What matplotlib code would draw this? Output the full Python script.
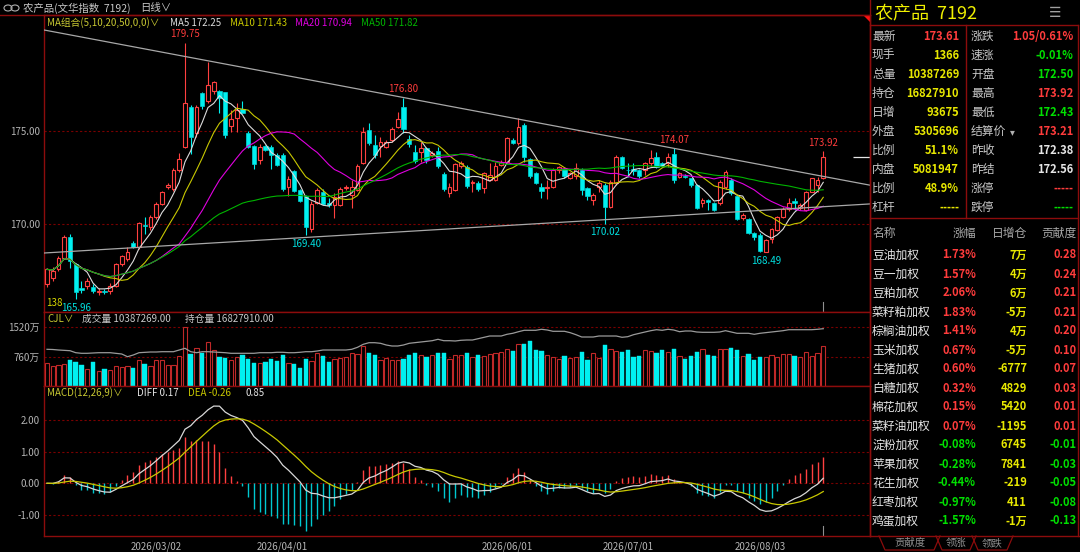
import numpy as np
import pandas as pd
import matplotlib
matplotlib.use('Agg')
import matplotlib.pyplot as plt
from matplotlib.lines import Line2D
from matplotlib.patches import Polygon, Ellipse
from matplotlib.ticker import FormatStrFormatter

plt.rcParams['font.family'] = ['Noto Sans CJK SC', 'DejaVu Sans']

# ---------------- data ----------------
opens = [166.75,167.10,167.56,168.19,169.28,167.85,166.55,166.66,166.60,166.35,
 166.42,166.39,166.66,167.83,168.10,169.00,168.74,169.95,169.82,170.36,
 171.08,171.98,171.90,172.89,174.15,176.28,174.87,177.04,176.59,177.13,
 177.13,177.08,175.27,175.69,176.17,174.91,174.19,173.43,174.19,174.15,
 173.70,173.70,171.99,172.85,171.84,171.50,169.73,171.15,171.74,171.15,
 171.02,171.02,171.95,171.55,171.83,173.26,175.05,174.25,174.19,174.16,
 174.52,175.23,176.31,174.55,173.89,173.89,174.07,173.71,173.92,172.69,
 171.68,171.83,173.12,173.05,172.19,172.19,171.92,172.37,172.37,173.17,
 173.35,174.52,174.34,175.32,173.48,172.72,172.00,171.92,172.00,172.90,
 172.94,172.48,172.60,172.90,171.92,171.29,172.01,172.10,170.90,172.19,
 173.58,172.92,172.94,172.90,172.90,173.26,173.58,173.26,173.26,173.75,
 172.54,172.60,172.46,172.10,171.15,171.29,171.11,171.11,172.00,172.37,
 171.50,170.30,170.25,169.53,169.41,168.51,169.18,169.68,170.36,170.79,
 171.25,170.84,170.75,171.74,172.10,172.50]
highs = [167.65,167.70,168.30,169.40,169.46,167.92,166.95,167.10,166.78,166.55,
 166.50,166.84,167.92,168.35,168.74,169.10,170.10,170.36,170.50,171.20,
 171.80,172.20,173.00,173.83,179.75,176.40,176.40,177.10,178.70,177.70,
 177.20,177.10,176.14,176.50,176.62,175.00,174.25,174.30,174.25,174.25,
 173.80,173.80,172.60,172.90,171.90,171.55,171.25,171.95,171.90,171.38,
 171.65,172.00,172.10,172.37,173.20,175.23,175.41,174.78,174.70,174.50,
 175.23,176.04,176.80,174.78,174.25,174.43,174.16,173.90,174.16,172.80,
 172.20,173.30,173.40,173.15,172.37,172.30,172.80,173.26,173.35,173.45,
 174.70,174.60,175.68,175.45,173.55,172.80,172.20,172.37,173.00,173.12,
 173.00,172.80,173.26,173.00,172.00,171.65,172.37,172.20,172.37,173.71,
 173.65,173.26,173.26,172.95,173.35,173.98,173.89,173.35,173.80,174.07,
 172.80,172.70,172.50,172.15,171.38,171.35,171.20,172.37,172.90,172.45,
 171.56,170.60,170.30,169.59,169.50,169.20,169.77,170.45,170.90,171.38,
 171.38,171.15,171.80,172.50,172.54,173.92]
lows = [166.60,166.95,167.50,168.10,167.65,165.96,166.30,166.50,166.30,166.20,
 166.25,166.21,166.60,167.75,168.00,168.70,168.65,169.46,169.70,170.25,
 171.00,171.90,171.80,172.80,174.06,173.79,174.70,176.20,176.50,177.00,
 175.96,174.60,174.96,174.96,175.95,174.10,172.98,173.25,173.90,172.98,
 173.10,171.80,171.53,171.70,171.20,169.40,169.55,171.05,171.00,170.93,
 170.30,170.95,171.83,170.84,171.75,173.20,174.25,173.53,173.62,174.10,
 174.43,175.14,174.87,174.16,173.26,173.35,173.26,173.60,172.99,171.80,
 171.47,171.75,173.00,171.95,171.74,171.80,171.68,172.30,172.30,173.10,
 173.30,174.30,174.25,173.35,172.50,172.15,171.38,171.34,171.95,172.72,
 172.50,172.40,172.40,171.56,171.29,171.02,171.74,170.02,170.85,172.10,
 172.95,172.54,172.63,172.50,172.63,173.10,173.00,173.05,173.08,172.19,
 172.45,172.45,172.00,170.80,170.93,170.75,170.70,171.02,171.90,171.56,
 170.20,170.20,169.45,169.14,168.52,168.49,169.00,169.60,170.30,170.72,
 170.75,170.75,170.70,171.70,171.74,172.43]
closes = [167.56,167.50,168.19,169.28,168.01,166.35,166.45,166.93,166.40,166.42,
 166.36,166.66,167.83,168.29,168.47,168.77,170.04,169.90,170.36,171.08,
 171.71,172.08,172.89,173.52,176.50,174.69,176.28,176.35,177.49,177.62,
 176.77,174.78,175.63,176.14,175.99,174.15,173.25,174.15,173.97,173.70,
 173.16,171.90,172.44,171.77,171.26,169.82,171.08,171.82,171.08,171.02,
 171.47,171.88,171.97,172.00,173.12,174.96,174.34,173.71,174.39,174.43,
 175.09,175.63,175.09,174.30,173.41,174.07,173.44,173.80,173.12,171.86,
 171.97,173.23,173.30,172.04,172.28,171.86,172.72,172.63,173.12,173.35,
 174.61,174.34,175.20,173.62,172.58,172.22,171.79,172.00,172.90,173.05,
 172.58,172.75,173.00,171.83,171.51,171.56,172.19,170.90,172.28,173.58,
 173.00,172.90,172.87,172.58,173.26,173.53,173.08,173.12,173.62,172.37,
 172.72,172.51,172.10,170.84,171.29,171.20,170.75,172.28,172.81,171.68,
 170.25,170.48,169.50,169.28,168.57,169.14,169.71,170.39,170.79,171.11,
 171.15,171.02,171.74,172.46,172.38,173.61]
# volume and open interest, in 万手
volumes = [599,519,554,581,671,626,536,429,617,402,
 447,420,527,492,510,456,671,563,510,671,
 671,536,536,778,1520,832,984,867,1136,939,
 760,715,671,742,805,689,608,599,626,689,
 644,805,599,563,474,697,644,849,787,617,
 689,715,742,849,822,1046,867,805,671,715,
 671,671,689,805,867,805,765,795,856,856,
 708,795,812,856,751,812,769,830,856,882,
 961,917,1092,1092,1162,926,900,812,743,699,
 769,725,751,882,681,856,725,1075,961,900,
 882,926,751,769,926,900,856,926,882,961,
 769,708,769,874,961,804,769,961,961,996,
 943,786,821,681,751,751,795,751,830,830,
 786,751,882,786,856,1039]
open_interest = [1477,1475,1470,1467,1463,1443,1437,1437,1440,1443,
 1443,1443,1437,1430,1403,1420,1443,1447,1450,1450,
 1453,1453,1453,1470,1487,1453,1443,1453,1453,1450,
 1447,1443,1437,1437,1437,1437,1437,1443,1443,1443,
 1447,1447,1443,1443,1447,1453,1453,1460,1470,1470,
 1470,1470,1470,1477,1497,1527,1543,1543,1537,1520,
 1510,1510,1520,1537,1543,1550,1557,1563,1577,1563,
 1563,1560,1567,1570,1570,1583,1597,1610,1610,1610,
 1627,1637,1653,1667,1667,1667,1677,1670,1657,1657,
 1657,1643,1623,1600,1600,1600,1610,1610,1610,1610,
 1597,1603,1623,1637,1650,1663,1673,1667,1677,1670,
 1653,1660,1660,1650,1647,1647,1647,1650,1663,1650,
 1637,1637,1637,1627,1637,1643,1650,1657,1663,1673,
 1673,1673,1673,1673,1677,1683]

tick_idx = [19, 41, 80, 101, 124]
tick_labels = ['2026/03/02', '2026/04/01', '2026/06/01', '2026/07/01', '2026/08/03']

ma_periods = [5, 10, 20, 50]
ma_last = [172.25, 171.43, 170.94, 171.82]

high_label_idx = [24, 62, 109, 135]
low_label_idx = [5, 45, 97, 125]
upper_trend_idx = [62, 109]          # through these highs
lower_trend_idx = [0, 135]
lower_trend_val = [168.45, 170.93]

total_volume = 10387269
total_oi = 16827910
macd_last = [0.17, -0.26, 0.85]   # DIFF, DEA, MACD

quote_left_labels = ['最新', '现手', '总量', '持仓', '日增', '外盘', '比例', '内盘', '比例', '杠杆']
quote_left_values = ['173.61', '1366', '10387269', '16827910', '93675', '5305696', '51.1%', '5081947', '48.9%', '-----']
quote_right_labels = ['涨跌', '速涨', '开盘', '最高', '最低', '结算价', '昨收', '昨结', '涨停', '跌停']
quote_right_values = ['1.05/0.61%', '-0.01%', '172.50', '173.92', '172.43', '173.21', '172.38', '172.56', '-----', '-----']

comp_names = ['豆油加权', '豆一加权', '豆粕加权', '菜籽粕加权', '棕榈油加权', '玉米加权', '生猪加权', '白糖加权',
              '棉花加权', '菜籽油加权', '淀粉加权', '苹果加权', '花生加权', '红枣加权', '鸡蛋加权']
comp_pct = ['1.73%', '1.57%', '2.06%', '1.83%', '1.41%', '0.67%', '0.60%', '0.32%',
            '0.15%', '0.07%', '-0.08%', '-0.28%', '-0.44%', '-0.97%', '-1.57%']
comp_oi = ['7万', '4万', '6万', '-5万', '4万', '-5万', '-6777', '4829',
           '5420', '-1195', '6745', '7841', '-219', '411', '-1万']
comp_contrib = ['0.28', '0.24', '0.21', '0.21', '0.20', '0.10', '0.07', '0.03',
                '0.01', '0.01', '-0.01', '-0.03', '-0.05', '-0.08', '-0.13']

# ---------------- styles ----------------
BG = 'black'
FRAME = '#8c0c0c'
GRID = '#7a0000'
UP = '#ff4040'
VUP = '#c02828'
DN = '#00f0f0'
RED_T = '#ff3c3c'
GRN_T = '#00e000'
YEL_T = '#e8e800'
WHT_T = '#e6e6e6'
LBL = '#c8c8c8'
AXT = '#b4b4b4'
MA_COLORS = ['#dcdcdc', '#c8c800', '#e000e0', '#00b400']
left_val_colors = [RED_T] + [YEL_T] * 9
right_val_colors = [RED_T, GRN_T, GRN_T, RED_T, GRN_T, RED_T, WHT_T, WHT_T, RED_T, GRN_T]

W, H = 1080, 552
def fx(px):
    return px / W
def fy(py):
    return 1 - py / H

fig = plt.figure(figsize=(W / 100, H / 100), dpi=100, facecolor=BG)

X0, X1 = 44, 870
ax = fig.add_axes([fx(X0), fy(312), (X1 - X0) / W, (312 - 15) / H])
axv = fig.add_axes([fx(X0), fy(386), (X1 - X0) / W, (386 - 312) / H])
axm = fig.add_axes([fx(X0), fy(536), (X1 - X0) / W, (536 - 386) / H])

XL = (-0.52, 143.13)
for a in (ax, axv, axm):
    a.set_facecolor(BG)
    a.set_xlim(*XL)
    for s in a.spines.values():
        s.set_color(FRAME)
        s.set_linewidth(1.0)
    a.grid(axis='y', color=GRID, linestyle=(0, (2, 2)), linewidth=0.8)
    a.set_axisbelow(True)
    a.tick_params(axis='both', colors=AXT, labelsize=7, length=0, pad=3)
    a.set_xticks([])

o = np.array(opens); h = np.array(highs); l = np.array(lows); c = np.array(closes)
n = len(c)
x = np.arange(n)
up = c >= o

# ---------------- main candles ----------------
ax.set_ylim(165.269, 181.237)
body_lo = np.minimum(o, c)
body_hi = np.maximum(o, c)
body_h = np.maximum(body_hi - body_lo, 0.02)
wick_col = np.where(up, UP, DN)
ax.vlines(x, body_hi, h, colors=wick_col, linewidth=0.8, zorder=3)
ax.vlines(x, l, body_lo, colors=wick_col, linewidth=0.8, zorder=3)
ax.bar(x[up], body_h[up], bottom=body_lo[up], width=0.66, facecolor=BG,
       edgecolor=UP, linewidth=0.8, zorder=3)
ax.bar(x[~up], body_h[~up], bottom=body_lo[~up], width=0.7, facecolor=DN,
       edgecolor=DN, linewidth=0.4, zorder=3)

cs = pd.Series(c)
for p, col in zip(ma_periods, MA_COLORS):
    ax.plot(x, cs.rolling(p, min_periods=1).mean(), color=col, linewidth=0.8, zorder=4)

# trend lines
ax.axline((upper_trend_idx[0], h[upper_trend_idx[0]]), (upper_trend_idx[1], h[upper_trend_idx[1]]),
          color='#a8a8a8', linewidth=0.9, zorder=5)
ax.axline((lower_trend_idx[0], lower_trend_val[0]), (lower_trend_idx[1], lower_trend_val[1]),
          color='#a8a8a8', linewidth=0.9, zorder=5)

for i in high_label_idx:
    ax.annotate(f'{h[i]:.2f}', (i, h[i]), xytext=(0, 2.5), textcoords='offset points',
                ha='center', va='bottom', color=RED_T, fontsize=7, zorder=6)
for i in low_label_idx:
    ax.annotate(f'{l[i]:.2f}', (i, l[i]), xytext=(0, -2.5), textcoords='offset points',
                ha='center', va='top', color='#00e0e0', fontsize=7, zorder=6)

# latest price marker & current bar markers
ax.hlines(c[-1], 140.1, XL[1], color=WHT_T, linewidth=0.9)
ax.axvline(n - 1, ymin=0, ymax=0.035, color='#909090', linewidth=0.8)
axm.axvline(n - 1, ymin=0, ymax=0.065, color='#909090', linewidth=0.8)

ax.set_yticks([170, 175])
ax.yaxis.set_major_formatter(FormatStrFormatter('%.2f'))

# ---------------- volume ----------------
v = np.array(volumes, dtype=float)
axv.set_ylim(0, 1919.5)
axv.bar(x[up], v[up], width=0.74, facecolor=BG, edgecolor=VUP, linewidth=0.8, zorder=3)
axv.bar(x[~up], v[~up], width=0.78, facecolor=DN, edgecolor=DN, linewidth=0.3, zorder=3)
axv.set_yticks([760, 1520])
axv.set_yticklabels(['760万', '1520万'])
axo = axv.twinx()
axo.set_xlim(*XL)
axo.set_ylim(1110, 1850)
axo.plot(x, open_interest, color='#9a9a9a', linewidth=0.9)
axo.set_axis_off()

# ---------------- MACD ----------------
ema12 = cs.ewm(span=12, adjust=False).mean()
ema26 = cs.ewm(span=26, adjust=False).mean()
diff = ema12 - ema26
dea = diff.ewm(span=9, adjust=False).mean()
hist = 2 * (diff - dea)
axm.set_ylim(-1.673, 3.089)
axm.vlines(x, 0, hist, colors=np.where(hist >= 0, UP, '#00c8d0'), linewidth=1.0, zorder=3)
axm.plot(x, diff, color='#d8d8d8', linewidth=0.9, zorder=4)
axm.plot(x, dea, color='#c8c800', linewidth=0.9, zorder=4)
axm.set_yticks([-1, 0, 1, 2])
axm.yaxis.set_major_formatter(FormatStrFormatter('%.2f'))
axm.set_xticks(tick_idx)
axm.set_xticklabels(tick_labels)
axm.tick_params(axis='x', colors=AXT, labelsize=7, length=0, pad=4)

# ---------------- header texts ----------------
def ftext(px, py, s, color, size=7, ha='left', va='center', **kw):
    fig.text(fx(px), fy(py), s, color=color, fontsize=size, ha=ha, va=va, **kw)

# link icon
for cx in (8, 15):
    fig.patches.append(Ellipse((fx(cx), fy(8)), 8 / W, 6 / H, transform=fig.transFigure,
                               fill=False, edgecolor='#b0b0b0', linewidth=0.8))
ftext(23, 8, '农产品(文华指数  7192)', LBL, 7.5)
ftext(140, 8, '日线∨', LBL, 7.5)
fig.add_artist(Line2D([0, fx(X1)], [fy(15), fy(15)], color=FRAME, linewidth=1.0))

ma_hdr_x = [170, 230, 295, 361]
ftext(47, 23, 'MA组合(5,10,20,50,0,0)∨', '#c8c832', 7)
for p, val, col, px in zip(ma_periods, ma_last, MA_COLORS, ma_hdr_x):
    ftext(px, 23, f'MA{p} {val:.2f}', col, 7)

ftext(46, 303, '138', '#d8d800', 7)

ftext(47, 319, 'CJL∨', '#c8c832', 7)
ftext(82, 319, f'成交量 {total_volume:.2f}', LBL, 7)
ftext(185, 319, f'持仓量 {total_oi:.2f}', LBL, 7)

ftext(47, 393, 'MACD(12,26,9)∨', '#c8c832', 7)
ftext(137, 393, f'DIFF {macd_last[0]:.2f}', WHT_T, 7)
ftext(188, 393, f'DEA {macd_last[1]:.2f}', '#c8c800', 7)
ftext(245, 393, f'{macd_last[2]:.2f}', WHT_T, 7)

# ---------------- right panel ----------------
def fline(xs, ys, color=FRAME, lw=1.0):
    fig.add_artist(Line2D([fx(v_) for v_ in xs], [fy(v_) for v_ in ys], color=color, linewidth=lw))

fline([870, 870], [0, 536])
fline([1078, 1078], [25, 536])
fline([870, 1078], [25, 25])
fline([966, 966], [25, 218])
fline([870, 1078], [218, 218])
fline([870, 1080], [536, 536])
fig.patches.append(Polygon([(fx(863), fy(15)), (fx(870), fy(15)), (fx(870), fy(22))],
                           closed=True, transform=fig.transFigure, facecolor='#ff1010', edgecolor='none'))

ftext(875, 13, '农产品  7192', '#f0f000', 13)
ftext(1055, 13, '☰', '#a0a0a0', 10, ha='center', family=['DejaVu Sans'])

row_y0, row_dy = 36.5, 19.0
for k in range(len(quote_left_labels)):
    yy = row_y0 + k * row_dy
    ftext(872, yy, quote_left_labels[k], LBL, 8.5)
    ftext(959, yy, quote_left_values[k], left_val_colors[k], 8, ha='right', weight='bold')
    lab = quote_right_labels[k]
    ftext(971, yy, lab, LBL, 8.5)
    if lab == '结算价':
        ftext(1012, yy + 1, '▾', '#b0b0b0', 7, ha='center', family=['DejaVu Sans'])
    ftext(1073, yy, quote_right_values[k], right_val_colors[k], 8, ha='right', weight='bold')

ftext(872, 233, '名称', '#a8a8a8', 8.5)
ftext(976, 233, '涨幅', '#a8a8a8', 8.5, ha='right')
ftext(1027, 233, '日增仓', '#a8a8a8', 8.5, ha='right')
ftext(1077, 233, '贡献度', '#a8a8a8', 8.5, ha='right')
for k, name in enumerate(comp_names):
    yy = 255 + k * 19.0
    pc = GRN_T if comp_pct[k].startswith('-') else RED_T
    cc = GRN_T if comp_contrib[k].startswith('-') else RED_T
    ftext(872, yy, name, WHT_T, 8.5)
    ftext(976, yy, comp_pct[k], pc, 8, ha='right', weight='bold')
    ftext(1027, yy, comp_oi[k], YEL_T, 8, ha='right', weight='bold')
    ftext(1077, yy, comp_contrib[k], cc, 8, ha='right', weight='bold')

# tabs
tabs = [('贡献度', 879, 940), ('领涨', 936, 976), ('领跌', 972, 1013)]
for name, xa, xb in tabs:
    fline([xa, xa + 6, xb - 6, xb], [536, 550, 550, 536], color=FRAME, lw=0.9)
    ftext((xa + xb) / 2, 543, name, '#909090', 7.5, ha='center')

fig.savefig('out.png', dpi=100, facecolor=BG)
